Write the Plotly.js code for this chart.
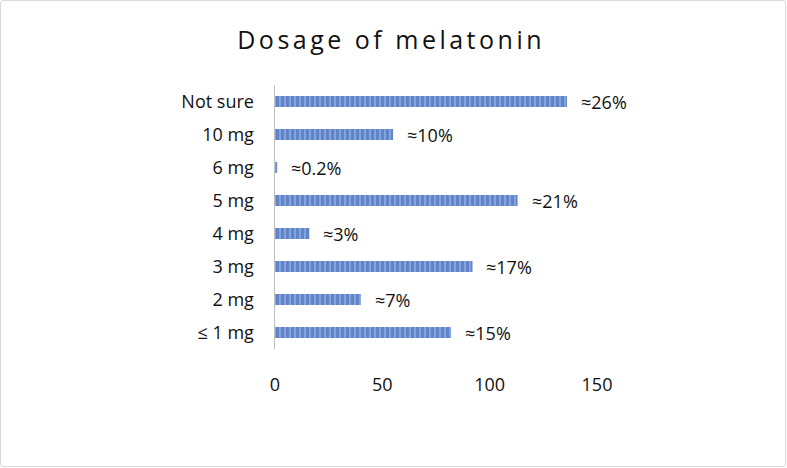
<!DOCTYPE html>
<html>
<head>
<meta charset="utf-8">
<script src="https://cdn.plot.ly/plotly-3.0.1.min.js"></script>
<style>
html,body{margin:0;padding:0;background:#fff;}
#wrap{position:relative;width:787px;height:468px;}
#chart{width:787px;height:468px;}
#border{position:absolute;left:0;top:0;width:784px;height:465px;border:1.5px solid #d9d9d9;border-radius:3px;pointer-events:none;}
</style>
</head>
<body>
<div id="wrap"><div id="chart"></div><div id="border"></div></div>
<script>
const categories = ["≤ 1 mg", "2 mg", "3 mg", "4 mg", "5 mg", "6 mg", "10 mg", "Not sure"];
const counts = [82, 40, 92, 16, 113, 1, 55, 136];
const labels = ["≈15%", "≈7%", "≈17%", "≈3%", "≈21%", "≈0.2%", "≈10%", "≈26%"];
const xTicks = [0, 50, 100, 150];

const font = "'Open Sans', sans-serif";

const trace = {
  type: "bar",
  orientation: "h",
  y: categories,
  x: counts,
  width: 0.33,
  marker: {
    color: "#4472C4",
    line: {width: 0},
    pattern: {shape: "|", size: 5, solidity: 0.6, fgcolor: "#3A66BA", bgcolor: "#86A3DA", fillmode: "overlay"}
  },
  hoverinfo: "skip"
};

const annotations = categories.map((c, i) => ({
  x: counts[i], y: c, xref: "x", yref: "y",
  text: labels[i], showarrow: false, xanchor: "left", xshift: 12,
  font: {family: font, size: 18, color: "#111"}
}));

const layout = {
  width: 787, height: 468,
  margin: {l: 275, r: 190, t: 85, b: 119},
  paper_bgcolor: "#fff", plot_bgcolor: "#fff",
  showlegend: false,
  title: {
    text: '<span style="letter-spacing:3.5px">Dosage of melatonin</span>',
    font: {family: font, size: 25, color: "#111"},
    x: 0.497, xanchor: "center", y: 0.915, yanchor: "middle"
  },
  xaxis: {
    range: [0, 150], tickvals: xTicks, ticktext: xTicks.map(String),
    showgrid: false, zeroline: false, showline: false,
    ticks: "outside", ticklen: 19, tickcolor: "rgba(0,0,0,0)",
    tickfont: {family: font, size: 18, color: "#111"}, fixedrange: true
  },
  yaxis: {
    range: [-0.5, 7.5], showgrid: false, zeroline: false,
    showline: true, linecolor: "#BFBFBF", linewidth: 1.5,
    ticks: "outside", ticklen: 16, tickcolor: "rgba(0,0,0,0)",
    tickfont: {family: font, size: 18, color: "#111"}, fixedrange: true
  },
  annotations: annotations
};

Plotly.newPlot("chart", [trace], layout, {displayModeBar: false, staticPlot: true});
</script>
</body>
</html>
